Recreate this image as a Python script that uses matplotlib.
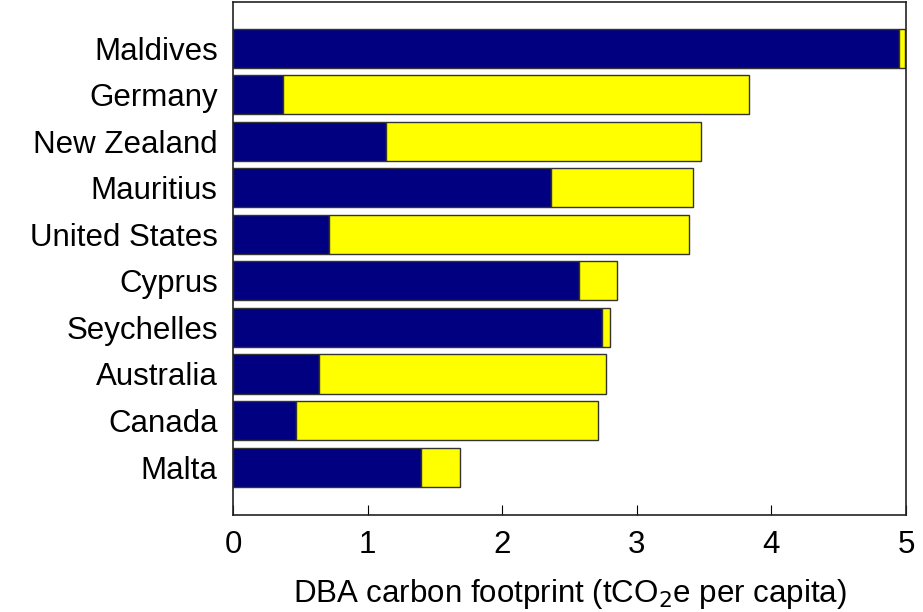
import matplotlib
matplotlib.use('Agg')
from matplotlib import pyplot as plt

countries = ['Maldives', 'Germany', 'New Zealand', 'Mauritius', 'United States',
             'Cyprus', 'Seychelles', 'Australia', 'Canada', 'Malta']
# DBA carbon footprint split into two parts (tCO2e per capita)
blue_part = [4.95, 0.37, 1.14, 2.36, 0.71, 2.57, 2.74, 0.64, 0.47, 1.40]
total = [4.99, 3.83, 3.48, 3.42, 3.39, 2.85, 2.80, 2.77, 2.71, 1.69]
yellow_part = [t - b for t, b in zip(total, blue_part)]

plt.rcParams['font.family'] = ['Liberation Sans', 'DejaVu Sans']
fs = 22.5

fig = plt.figure(figsize=(9.23, 6.12), dpi=100)
ax = fig.add_axes([0.2524, 0.1585, 0.7292, 0.8382])

pos = list(range(len(countries)))[::-1]
ax.barh(pos, blue_part, height=0.84, color='#000080', edgecolor='#333333', linewidth=1)
ax.barh(pos, yellow_part, left=blue_part, height=0.84, color='#ffff00',
        edgecolor='#333333', linewidth=1)

ax.set_xlim(0, 5)
ax.set_ylim(-1.03, 9.99)
ax.set_yticks(pos)
ax.set_yticklabels(countries, fontsize=fs)
ax.tick_params(axis='y', length=0, pad=11)
ax.set_xticks([0, 1, 2, 3, 4, 5])
ax.tick_params(axis='x', direction='in', length=7, labelsize=fs, pad=11)
ax.set_xlabel('DBA carbon footprint (tCO$_2$e per capita)', fontsize=fs, labelpad=12)
for s in ax.spines.values():
    s.set_linewidth(1.2)
    s.set_color('#222222')

fig.savefig('out.png', dpi=100)
